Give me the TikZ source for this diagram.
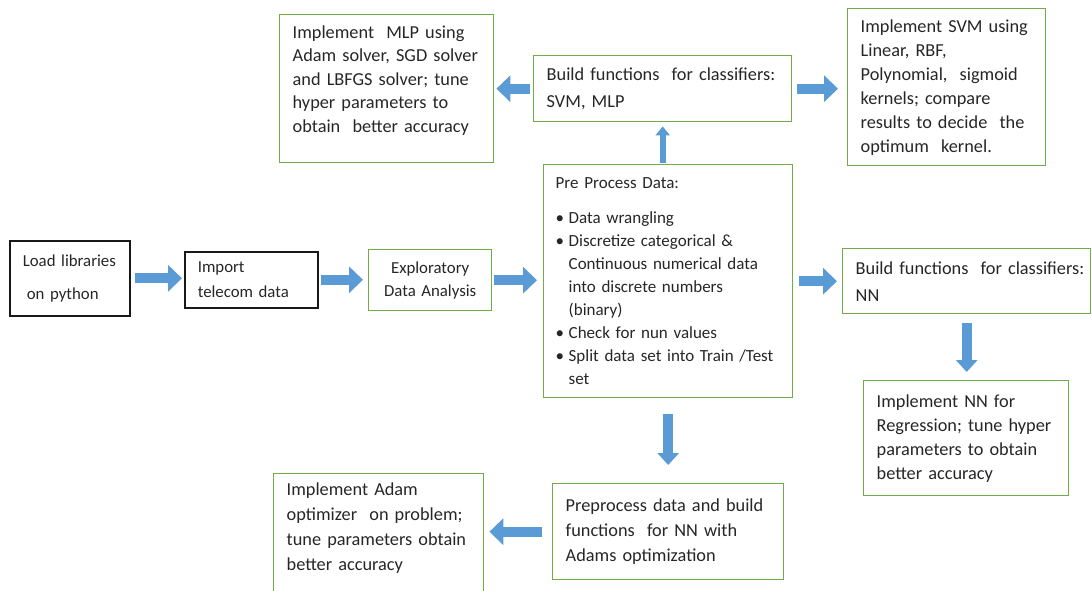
\documentclass[tikz,border=0pt]{standalone}
\usepackage{fontspec}
\setmainfont{Carlito}
\usepackage{tikz}
\usetikzlibrary{arrows.meta,positioning}
\usepackage{xcolor}

\definecolor{boxgreen}{RGB}{112,173,71}
\definecolor{arrblue}{RGB}{91,155,213}
\definecolor{txtgray}{RGB}{38,38,38}

\newcommand{\bulitem}{\makebox[13pt][l]{\textbullet}}
\newcommand{\bulcont}{\hspace*{13pt}}

\begin{document}
\begin{tikzpicture}[
  x=1pt, y=-1pt,
  gbox/.style={
    draw=boxgreen,
    line width=1.4pt,
    anchor=north west,
    align=left,
    inner xsep=13pt,
    inner ysep=0pt,
    text=txtgray,
    font=\fontsize{18.3}{24}\selectfont,
  },
  kbox/.style={
    gbox,
    draw=black!90,
    line width=1.6pt,
    font=\fontsize{16.8}{25}\selectfont,
  },
  barr/.style={
    -{Triangle[length=14pt,width=26pt]},
    line width=10pt,
    arrblue,
  },
  darr/.style={
    -{Triangle[length=12pt,width=21pt]},
    line width=10pt,
    arrblue,
  },
  tarr/.style={
    -{Triangle[length=9pt,width=14pt]},
    line width=6pt,
    arrblue,
  },
]
\useasboundingbox (0,0) rectangle (1092,590);
\clip (0,0) rectangle (1092,590);

% Nodes
\node[kbox, text width=94pt, minimum height=75pt,
  font=\fontsize{16.8}{23}\selectfont] (load) at (9,240)
  {Load libraries\\[10pt]\hspace*{4pt}on python};

\node[kbox, text width=107pt, minimum height=56pt] (import) at (184,251)
  {Import\\telecom data};

\node[gbox, text width=97pt, minimum height=61pt, align=center,
  font=\fontsize{16.8}{23}\selectfont] (explore) at (368,249)
  {Exploratory\\Data Analysis};

\node[gbox, text width=225pt, minimum height=233pt, inner xsep=12pt,
  font=\fontsize{17}{23}\selectfont] (pre) at (543,164)
  {Pre Process Data:\\[12pt]
   \bulitem Data wrangling\\
   \bulitem Discretize categorical \&\\
   \bulcont Continuous numerical data\\
   \bulcont into discrete numbers\\
   \bulcont (binary)\\
   \bulitem Check for nun values\\
   \bulitem Split data set into Train  /Test\\
   \bulcont set};

\node[gbox, text width=232pt, minimum height=66pt,
  font=\fontsize{18.3}{27}\selectfont] (build1) at (533,55)
  {Build functions\ \ for classifiers:\\SVM, MLP};

\node[gbox, text width=188pt, minimum height=148pt,
  font=\fontsize{18.3}{23.5}\selectfont] (mlp) at (279,14)
  {Implement\ \ MLP using\\Adam solver, SGD solver\\and LBFGS solver; tune\\
   hyper parameters to\\obtain\ \ better accuracy\\[-4pt]\mbox{}};

\node[gbox, text width=172pt, minimum height=157pt] (svm) at (847,8)
  {Implement SVM using\\Linear, RBF,\\Polynomial,\ \ sigmoid\\kernels; compare\\
   results to decide\ \ the\\optimum\ \ kernel.};

\node[gbox, text width=222pt, minimum height=65pt,
  font=\fontsize{18.3}{27}\selectfont] (buildnn) at (842,248)
  {\mbox{Build functions\ \ for classifiers:}\\NN};

\node[gbox, text width=179pt, minimum height=115pt] (nnimpl) at (863,380)
  {Implement NN for\\Regression; tune hyper\\parameters to obtain\\better accuracy};

\node[gbox, text width=205pt, minimum height=96pt,
  font=\fontsize{18.3}{25}\selectfont] (prenn) at (552,483)
  {Preprocess data and build\\functions\ \ for NN with\\Adams optimization};

\node[gbox, overlay, text width=184pt, minimum height=130pt,
  font=\fontsize{18.3}{25}\selectfont] (adam) at (273,473)
  {Implement Adam\\optimizer\ \ on problem;\\tune parameters obtain\\better accuracy\\\mbox{}};

% Arrows
\draw[barr, shorten <=4pt, shorten >=2pt] (load.east) -- (load.east -| import.west);
\draw[barr, shorten <=2pt, shorten >=5pt] (import.east) -- (import.east -| explore.west);
\draw[barr, shorten <=2pt, shorten >=6pt] (explore.east) -- (explore.east -| pre.west);
\draw[barr, shorten <=6pt, shorten >=5pt] (pre.east) -- (pre.east -| buildnn.west);
\draw[tarr, shorten <=1pt, shorten >=4pt] (build1.south |- pre.north) -- (build1.south);
\draw[barr, shorten <=3pt, shorten >=2pt] (build1.west) -- (build1.west -| mlp.east);
\draw[barr, shorten <=5pt, shorten >=9pt] (build1.east) -- (build1.east -| svm.west);
\draw[darr, shorten <=9pt, shorten >=8pt] (buildnn.south) -- (buildnn.south |- nnimpl.north);
\draw[darr, shorten <=16pt, shorten >=18pt] (pre.south) -- (pre.south |- prenn.north);
\draw[barr, shorten <=10pt, shorten >=5pt] (prenn.west) -- (prenn.west -| adam.east);
\end{tikzpicture}
\end{document}
